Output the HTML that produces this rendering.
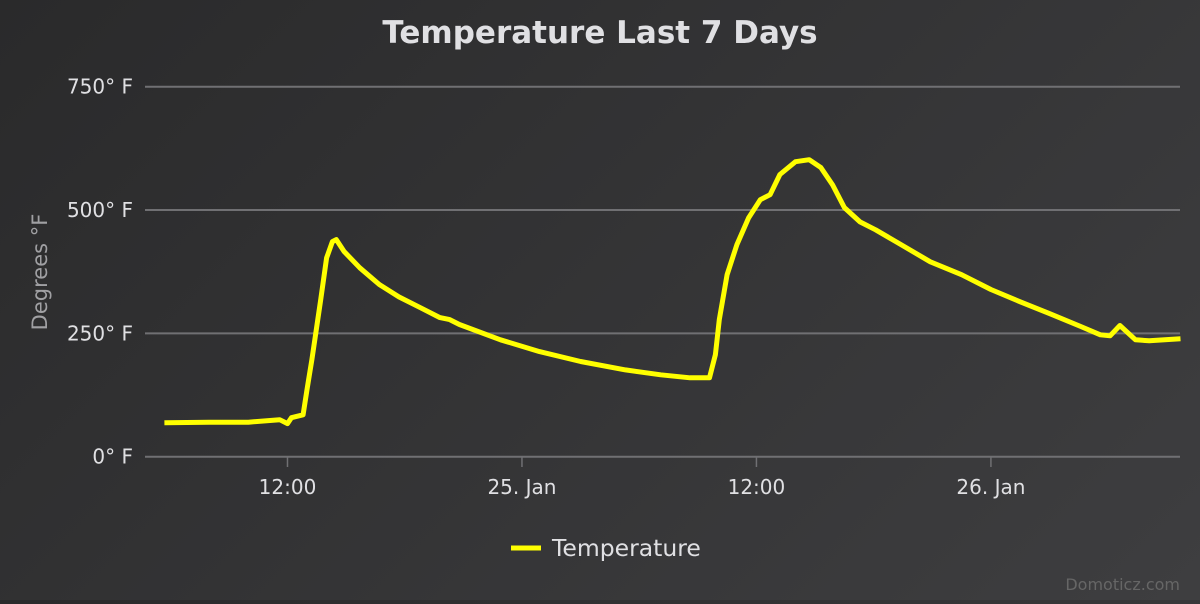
<!DOCTYPE html>
<html><head><meta charset="utf-8">
<style>
html,body{margin:0;padding:0;}
body{width:1200px;height:600px;overflow:hidden;background:linear-gradient(135deg,#2a2a2b 0%,#3e3e40 100%);font-family:"DejaVu Sans","Liberation Sans",sans-serif;}
</style></head>
<body>
<svg id="chart" width="1200" height="600" xmlns="http://www.w3.org/2000/svg">
<text x="600" y="43" text-anchor="middle" fill="#e0e0e3" font-size="31" font-weight="bold" font-family="DejaVu Sans, sans-serif">Temperature Last 7 Days</text>
<text transform="translate(47,272) rotate(-90)" text-anchor="middle" fill="#a0a0a3" font-size="21" font-family="DejaVu Sans, sans-serif">Degrees °F</text>
<g id="grid"></g>
<g id="xaxis"></g>
<g id="series"></g>
<g>
<line x1="511" y1="548" x2="541" y2="548" stroke="#ffff00" stroke-width="5"/>
<text x="552" y="556" fill="#e0e0e3" font-size="23.5" font-family="DejaVu Sans, sans-serif">Temperature</text>
</g>
<text x="1180" y="590" text-anchor="end" fill="#666666" font-size="16" font-family="DejaVu Sans, sans-serif">Domoticz.com</text>
</svg>
<script>
// hours since 24 Jan 00:00
const times=[5.7,8,10,11.6,12.0,12.2,12.8,13.0,13.25,13.7,14.0,14.3,14.5,14.9,15.7,16.7,17.7,18.8,19.8,20.3,20.8,22.9,24.9,27.0,29.3,31.1,32.6,33.6,33.9,34.1,34.5,35.0,35.6,36.2,36.7,37.2,38.0,38.7,39.3,39.9,40.5,41.3,42.1,43.4,44.9,46.5,48.0,49.5,51.0,52.6,53.6,54.1,54.6,55.4,56.1,57.7];
const temps=[69,70,70,75,67,79,85,136,197,318,403,436,440,416,383,349,324,302,282,278,268,237,213,193,176,166,160,160,207,278,369,430,484,521,531,572,598,602,586,551,505,476,460,430,395,369,339,314,290,264,247,245,266,237,235,239];
const yTicks=[0,250,500,750];
const xTicks=[12,24,36,48];
const xTickLabels=["12:00","25. Jan","12:00","26. Jan"];
const NS="http://www.w3.org/2000/svg";
const X0=145,X1=1180;
function xs(t){return 53+t*19.54;}
function ys(v){return 456.7-v*(370/750);}
const grid=document.getElementById('grid');
yTicks.forEach(v=>{
 const l=document.createElementNS(NS,'line');
 
 
 l.setAttribute('x1',X0);l.setAttribute('x2',X1);l.setAttribute('y1',ys(v));l.setAttribute('y2',ys(v));
 l.setAttribute('stroke','#707073');l.setAttribute('stroke-width','2');
 grid.appendChild(l);
 const t=document.createElementNS(NS,'text');
 
 
 t.setAttribute('x',133);t.setAttribute('y',ys(v)+7);t.setAttribute('text-anchor','end');
 t.setAttribute('fill','#e0e0e3');t.setAttribute('font-size','20');
 t.textContent=v+'° F';grid.appendChild(t);
});
const xa=document.getElementById('xaxis');
xTicks.forEach((h,i)=>{
 const l=document.createElementNS(NS,'line');
 
 
 l.setAttribute('x1',xs(h));l.setAttribute('x2',xs(h));l.setAttribute('y1',457);l.setAttribute('y2',467);
 l.setAttribute('stroke','#707073');l.setAttribute('stroke-width','1.5');
 xa.appendChild(l);
 const t=document.createElementNS(NS,'text');
 
 
 t.setAttribute('x',xs(h));t.setAttribute('y',494);t.setAttribute('text-anchor','middle');
 t.setAttribute('fill','#e0e0e3');t.setAttribute('font-size','20');
 t.textContent=xTickLabels[i];xa.appendChild(t);
});
const p=document.createElementNS(NS,'path');


p.setAttribute('d',times.map((t,i)=>(i?'L':'M')+xs(t).toFixed(1)+','+ys(temps[i]).toFixed(1)).join(''));
p.setAttribute('fill','none');p.setAttribute('stroke','#ffff00');p.setAttribute('stroke-width','5');
p.setAttribute('stroke-linejoin','round');
document.getElementById('series').appendChild(p);
</script>
</body></html>
